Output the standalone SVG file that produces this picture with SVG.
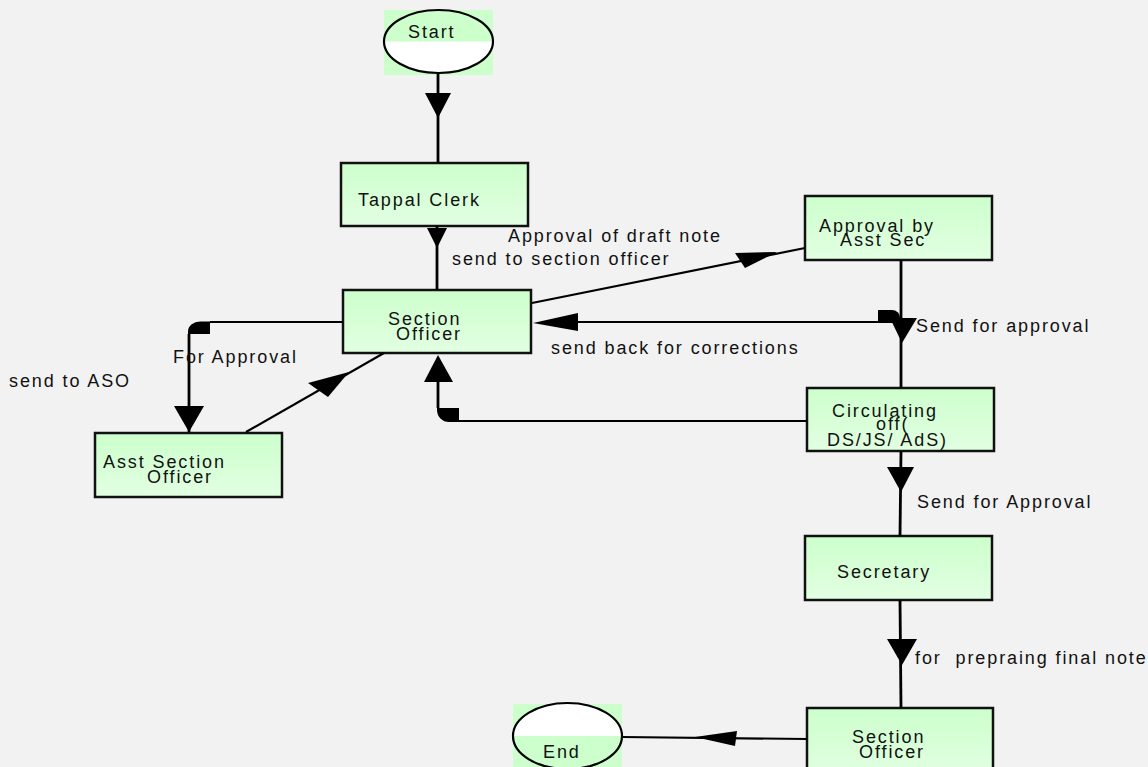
<svg xmlns="http://www.w3.org/2000/svg" width="1148" height="767" viewBox="0 0 1148 767">
<defs>
<linearGradient id="boxfill" x1="0" y1="0" x2="0" y2="1">
<stop offset="0" stop-color="#ccffcc"/>
<stop offset="1" stop-color="#e2ffe2"/>
</linearGradient>
<style>
.box{fill:url(#boxfill);stroke:#111;stroke-width:2.5}
.t{font-family:"Liberation Sans",Arial,sans-serif;font-size:18px;letter-spacing:1.9px;fill:#111;white-space:pre}
.ln{stroke:#000;stroke-width:2.2;fill:none}
.lv{stroke:#000;stroke-width:2.8;fill:none}
.ah{fill:#000}
.term{fill:none;stroke:#000;stroke-width:2.2}
</style>
</defs>
<rect x="0" y="0" width="1148" height="767" fill="#f2f2f2"/>

<g id="start">
<rect x="384" y="10" width="109" height="65" fill="#ccffcc"/>
<ellipse cx="438.5" cy="41.5" rx="54.5" ry="31.5" fill="#ffffff"/>
<path d="M384 41.5 A54.5 31.5 0 0 1 493 41.5 Z" fill="#ccffcc"/>
<ellipse class="term" cx="438.5" cy="41.5" rx="54.5" ry="31.5"/>
<text class="t" x="408" y="38">Start</text>
</g>

<g id="tappal">
<rect class="box" x="341" y="163" width="187" height="63"/>
<text class="t" x="358" y="206">Tappal Clerk</text>
</g>

<g id="section-officer">
<rect class="box" x="343" y="290" width="188" height="63"/>
<text class="t" x="388" y="325">Section</text>
<text class="t" x="396" y="340">Officer</text>
</g>

<g id="approval-asst-sec">
<rect class="box" x="805" y="196" width="187" height="64"/>
<text class="t" x="819" y="232">Approval by</text>
<text class="t" x="840" y="246">Asst Sec</text>
</g>

<g id="asst-section-officer">
<rect class="box" x="95" y="433" width="187" height="64"/>
<text class="t" x="103" y="468">Asst Section</text>
<text class="t" x="147" y="483">Officer</text>
</g>

<g id="circulating">
<rect class="box" x="807" y="388" width="187" height="63"/>
<text class="t" x="832" y="417">Circulating</text>
<text class="t" x="876" y="430">off(</text>
<text class="t" x="827" y="446">DS/JS/ AdS)</text>
</g>

<g id="secretary">
<rect class="box" x="805" y="536" width="187" height="64"/>
<text class="t" x="837" y="578">Secretary</text>
</g>

<g id="section-officer-2">
<rect class="box" x="807" y="708" width="186" height="70"/>
<text class="t" x="852" y="743">Section</text>
<text class="t" x="859" y="758">Officer</text>
</g>

<g id="end">
<rect x="513" y="704" width="109" height="63" fill="#ccffcc"/>
<path d="M513 736 A54.5 33 0 0 1 622 736 Z" fill="#ffffff"/>
<ellipse class="term" cx="567.5" cy="736" rx="54.5" ry="33"/>
<text class="t" x="543" y="758">End</text>
</g>

<g id="connectors">
<line class="lv" x1="438" y1="73" x2="438" y2="163"/>
<polygon class="ah" points="425,93 451,93 438,118"/>
<line class="lv" x1="437" y1="226" x2="437" y2="290"/>
<polygon class="ah" points="427,228 447,228 437,248"/>
<line class="ln" x1="532" y1="303" x2="805" y2="248"/>
<polygon class="ah" points="735,253 777,252 745,268"/>
<path class="ln" d="M343 322 H210"/>
<path class="ah" d="M210 321.5 V334 H188 V331 A12 10 0 0 1 200 321.5 Z"/>
<line class="lv" x1="189" y1="334" x2="189" y2="432"/>
<polygon class="ah" points="174,406 204,406 189,432"/>
<line class="ln" x1="246" y1="432" x2="384" y2="353"/>
<polygon class="ah" points="308,383 349,372 328,397"/>
<path class="ln" d="M807 421 H459"/>
<path class="ah" d="M459 408 V422 H449 A12 12 0 0 1 437 410 V408 Z"/>
<line class="lv" x1="438" y1="408" x2="438" y2="380"/>
<polygon class="ah" points="424,382 453,382 438,355"/>
<line class="lv" x1="901" y1="260" x2="901" y2="388"/>
<polygon class="ah" points="890,318 917,318 902,343"/>
<path class="ah" d="M878 310 H892 A8 8 0 0 1 900 318 V323 H878 Z"/>
<line class="ln" x1="878" y1="322" x2="575" y2="322"/>
<polygon class="ah" points="533,323 578,313 578,331"/>
<line class="lv" x1="901" y1="451" x2="900" y2="536"/>
<polygon class="ah" points="887,467 914,467 901,492"/>
<line class="lv" x1="900" y1="600" x2="901" y2="708"/>
<polygon class="ah" points="887,639 917,639 902,665"/>
<line class="ln" x1="807" y1="739" x2="622" y2="737"/>
<polygon class="ah" points="695,737 737,731 735,746"/>

<text class="t" x="508" y="242">Approval of draft note</text>
<text class="t" x="452" y="265">send to section officer</text>
<text class="t" x="551" y="354">send back for corrections</text>
<text class="t" x="173" y="363">For Approval</text>
<text class="t" x="9" y="387">send to ASO</text>
<text class="t" x="916" y="332">Send for approval</text>
<text class="t" x="917" y="508">Send for Approval</text>
<text class="t" x="915" y="664">for  prepraing final note</text>
</g>
</svg>
